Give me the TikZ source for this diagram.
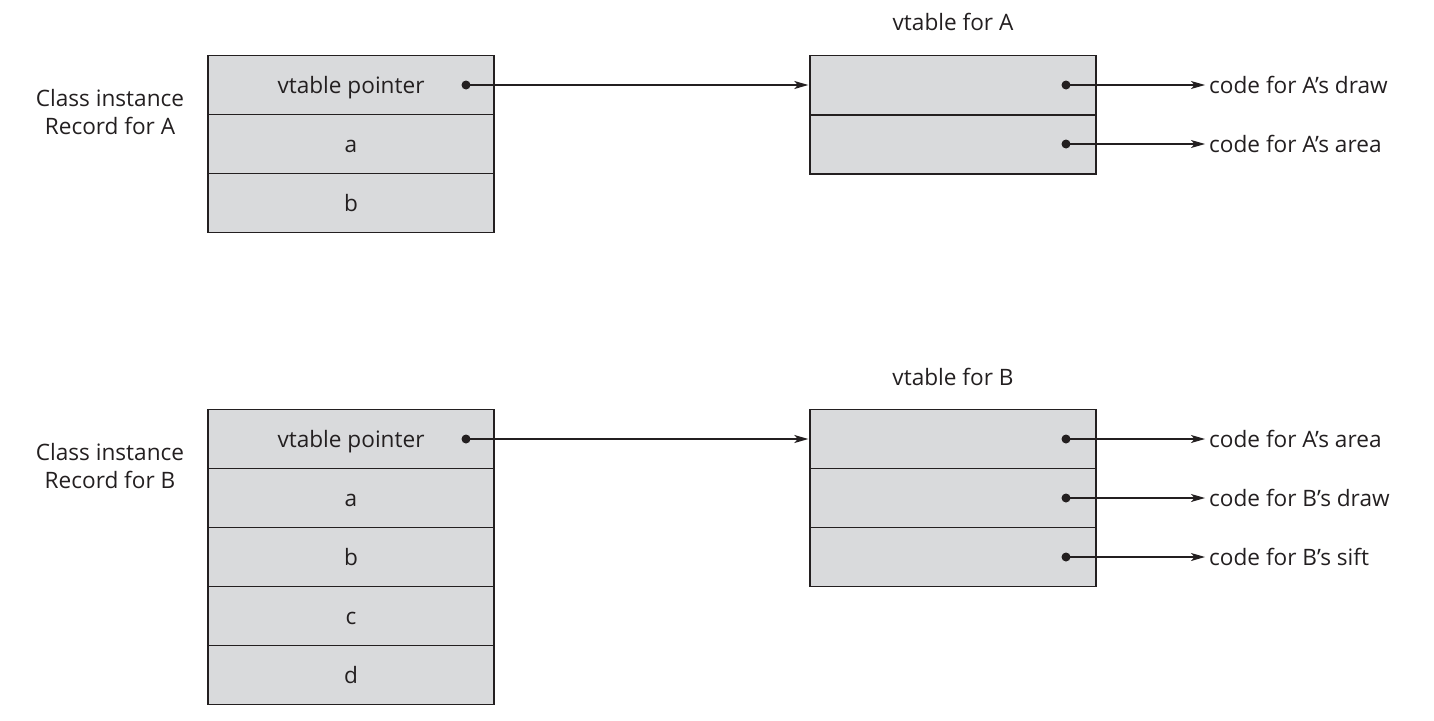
\documentclass[tikz,border=0pt]{standalone}
\usepackage{fontspec}
\setmainfont{Open Sans}
\usetikzlibrary{arrows.meta}
\definecolor{cellgray}{HTML}{D9DADC}
\definecolor{ink}{HTML}{231F20}
\tikzset{
  txt/.style={font=\fontsize{22.6}{28.5}\selectfont, text=ink},
  cell/.style={txt, draw=ink, fill=cellgray, line width=1.4pt, minimum width=286pt, minimum height=59pt, inner sep=0pt, text height=20pt, text depth=3pt},
  dot/.style={circle, fill=ink, inner sep=0pt, minimum size=9pt},
  arr/.style={draw=ink, line width=1.2pt, -{Stealth[length=14pt, width=8pt, inset=3.5pt]}},
  lbl/.style={txt, inner sep=0pt, text height=20pt, text depth=3pt},
  side/.style={txt, align=center, inner sep=0pt}
}
\begin{document}
\begin{tikzpicture}[x=1pt,y=-1pt]
\useasboundingbox (0,0) rectangle (1434,720);
% Record A
\node[cell] (ra1) at (351,85) {vtable pointer};
\node[cell] (ra2) at (351,144) {a};
\node[cell] (ra3) at (351,203) {b};
\node[side] (la) at (110,112) {Class instance\\Record for A};
% vtable A
\node[lbl] (ta) at (953,22) {vtable for A};
\node[cell] (va1) at (953,85) {};
\node[cell] (va2) at (953,144.5) {};
% Record B
\node[cell] (rb1) at (351,439) {vtable pointer};
\node[cell] (rb2) at (351,498) {a};
\node[cell] (rb3) at (351,557) {b};
\node[cell] (rb4) at (351,616) {c};
\node[cell] (rb5) at (351,675) {d};
\node[side] (lb) at (110,466) {Class instance\\Record for B};
% vtable B
\node[lbl] (tb) at (953,377) {vtable for B};
\node[cell] (vb1) at (953,439) {};
\node[cell] (vb2) at (953,498) {};
\node[cell] (vb3) at (953,557) {};
% dots
\node[dot] (pa) at (466,85) {};
\node[dot] (pb) at (466,439) {};
\node[dot] (da1) at (1066,85) {};
\node[dot] (da2) at (1066,144) {};
\node[dot] (db1) at (1066,439) {};
\node[dot] (db2) at (1066,498) {};
\node[dot] (db3) at (1066,557) {};
% code labels
\node[lbl, anchor=west] (ca1) at (1209,85) {code for A’s draw};
\node[lbl, anchor=west] (ca2) at (1209,144) {code for A’s area};
\node[lbl, anchor=west] (cb1) at (1209,439) {code for A’s area};
\node[lbl, anchor=west] (cb2) at (1209,498) {code for B’s draw};
\node[lbl, anchor=west] (cb3) at (1209,557) {code for B’s sift};
% arrows
\draw[arr] (pa.center) -- ([xshift=-1pt]va1.west);
\draw[arr] (pb.center) -- ([xshift=-1pt]vb1.west);
\draw[arr] (da1.center) -- ([xshift=-4pt]ca1.west);
\draw[arr] (da2.center) -- ([xshift=-4pt]ca2.west);
\draw[arr] (db1.center) -- ([xshift=-4pt]cb1.west);
\draw[arr] (db2.center) -- ([xshift=-4pt]cb2.west);
\draw[arr] (db3.center) -- ([xshift=-4pt]cb3.west);
\end{tikzpicture}
\end{document}
